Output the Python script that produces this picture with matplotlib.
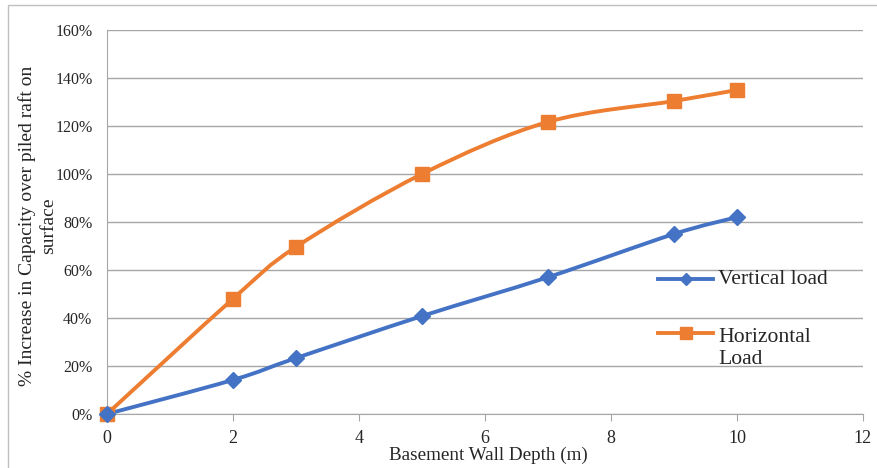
import matplotlib
matplotlib.use("Agg")
import matplotlib.pyplot as plt
from matplotlib.path import Path
from matplotlib.patches import PathPatch, Rectangle
from matplotlib.lines import Line2D
from matplotlib.ticker import MultipleLocator, FuncFormatter
import numpy as np

plt.rcParams['font.family'] = ['Liberation Serif', 'DejaVu Serif']

depth = [0, 2, 3, 5, 7, 9, 10]
vertical_load = [0, 14.2, 23.3, 40.8, 57.0, 75.0, 82.0]
horizontal_load = [0, 48.0, 69.6, 100.0, 121.7, 130.4, 135.0]
series_names = ["Vertical load", "Horizontal\nLoad"]

BLUE = "#4472C4"
ORANGE = "#ED7D31"
GRID = "#a6a6a6"
TEXT = "#262626"


def smooth_path(x, y):
    """Cubic Bezier path through the points (Catmull-Rom style tangents)."""
    x = np.asarray(x, float)
    y = np.asarray(y, float)
    verts = [(x[0], y[0])]
    codes = [Path.MOVETO]
    n = len(x)
    for i in range(n - 1):
        x0, y0 = (x[i - 1], y[i - 1]) if i > 0 else (x[i], y[i])
        x3, y3 = (x[i + 2], y[i + 2]) if i + 2 < n else (x[i + 1], y[i + 1])
        c1 = (x[i] + (x[i + 1] - x0) / 6, y[i] + (y[i + 1] - y0) / 6)
        c2 = (x[i + 1] - (x3 - x[i]) / 6, y[i + 1] - (y3 - y[i]) / 6)
        verts += [c1, c2, (x[i + 1], y[i + 1])]
        codes += [Path.CURVE4] * 3
    return Path(verts, codes)


fig = plt.figure(figsize=(8.77, 4.68), dpi=100)
ax = fig.add_axes([0.122, 0.1154, 0.862, 0.8205])

# Outer chart frame
fig.patches.append(Rectangle((8 / 877, -0.01), 1.0, 1 - 5 / 468 + 0.01,
                             transform=fig.transFigure, fill=False,
                             edgecolor="#bfbfbf", linewidth=1.0))

for xs, ys, color, marker, ms in [
    (depth, horizontal_load, ORANGE, "s", 10),
    (depth, vertical_load, BLUE, "D", 8.5),
]:
    ax.add_patch(PathPatch(smooth_path(xs, ys), facecolor="none",
                           edgecolor=color, linewidth=2.8, zorder=3,
                           capstyle="round", joinstyle="round"))
    ax.plot(xs, ys, linestyle="none", marker=marker, markersize=ms,
            color=color, zorder=4, clip_on=False)

ax.set_xlim(0, 12)
ax.set_ylim(0, 160)
ax.xaxis.set_major_locator(MultipleLocator(2))
ax.yaxis.set_major_locator(MultipleLocator(20))
ax.yaxis.set_major_formatter(FuncFormatter(lambda v, p: f"{v:.0f}%"))

ax.grid(axis="y", color=GRID, linewidth=1.0)
ax.set_axisbelow(True)
for s in ["top", "right"]:
    ax.spines[s].set_visible(False)
ax.spines["left"].set_color(GRID)
ax.spines["bottom"].set_color(GRID)
ax.tick_params(axis="y", length=0, labelsize=11.5, colors=TEXT, pad=10.5)
ax.tick_params(axis="x", length=5, color=GRID, labelsize=13,
               colors=TEXT, pad=6.5)

ax.set_xlabel("Basement Wall Depth (m)", fontsize=13.8, color=TEXT)
ax.xaxis.label.set_va("center")
ax.xaxis.set_label_coords(0.504, (414 - 455) / 384)

ax.set_ylabel("% Increase in Capacity over piled raft on\nsurface",
              fontsize=14, linespacing=1.3, color=TEXT)
ax.yaxis.set_label_coords((57 - 107) / 756, (414 - 226) / 384)


# Legend entries drawn to the right side of the plot
def px_x(px):
    return (px - 107) / 756


def px_y(py):
    return (414 - py) / 384


for name, color, marker, ms, py in [
    (series_names[0], BLUE, "D", 6, 279),
    (series_names[1], ORANGE, "s", 8.5, 333),
]:
    ax.add_line(Line2D([px_x(658), px_x(713)], [px_y(py), px_y(py)],
                       transform=ax.transAxes, color=color, linewidth=2.8,
                       clip_on=False, zorder=5))
    ax.add_line(Line2D([px_x(686)], [px_y(py)], transform=ax.transAxes,
                       color=color, marker=marker, markersize=ms,
                       clip_on=False, zorder=6))
    multiline = "\n" in name
    ty = px_y(py - 5) if multiline else px_y(py + 1)
    ax.text(px_x(718), ty, name, transform=ax.transAxes,
            fontsize=15.6, va="top" if multiline else "center",
            ha="left", linespacing=1.2, color=TEXT)

fig.savefig("out.png", dpi=100)
